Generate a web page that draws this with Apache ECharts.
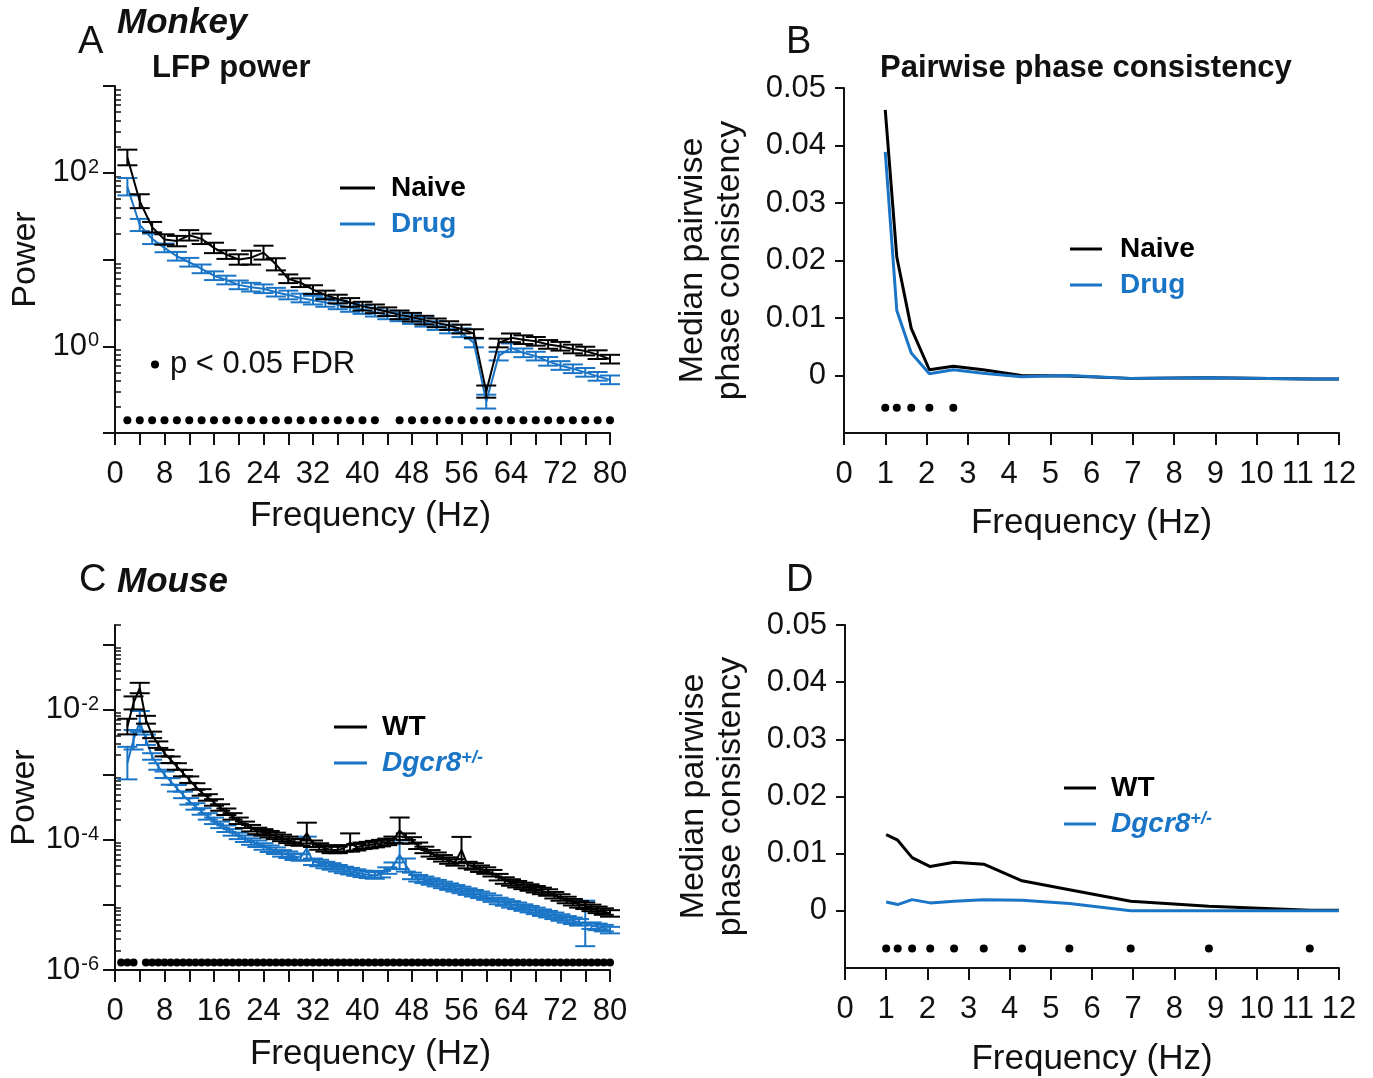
<!DOCTYPE html>
<html>
<head>
<meta charset="utf-8">
<script src="https://cdn.jsdelivr.net/npm/echarts@6/dist/echarts.min.js"></script>
<style>
html,body{margin:0;padding:0;background:#fff;}
#chart{width:1373px;height:1078px;}
</style>
</head>
<body>
<div id="chart"></div>
<script>
// ---------------- DATA ----------------
// Panel A: Monkey LFP power (every 2 Hz)
const freqA = [2,4,6,8,10,12,14,16,18,20,22,24,26,28,30,32,34,36,38,40,42,44,46,48,50,52,54,56,58,60,62,64,66,68,70,72,74,76,78,80];
const naiveA = [150,47,23.6,17,16.3,19,17.3,13.6,11.4,10,10.5,12,8.8,6,5.4,4.5,3.9,3.5,3.2,2.9,2.7,2.5,2.3,2.16,2.0,1.86,1.73,1.58,1.4,0.30,1.09,1.25,1.19,1.14,1.05,1.0,0.93,0.88,0.80,0.71];
const drugA = [69,25,17.3,13.6,10.9,9.3,7.8,6.5,5.8,5.1,4.8,4.6,4.2,3.9,3.6,3.4,3.2,3.0,2.8,2.65,2.47,2.3,2.18,2.03,1.89,1.73,1.58,1.43,1.09,0.23,0.77,0.96,0.84,0.77,0.67,0.60,0.55,0.50,0.45,0.41];
// error (log10 decades, +/-)
const naiveErrA = [0.09,0.08,0.06,0.06,0.06,0.06,0.06,0.06,0.05,0.06,0.08,0.08,0.07,0.05,0.05,0.05,0.05,0.05,0.05,0.05,0.05,0.05,0.05,0.05,0.05,0.05,0.05,0.05,0.05,0.07,0.05,0.05,0.05,0.05,0.05,0.05,0.05,0.05,0.05,0.05];
const drugErrA = [0.10,0.07,0.06,0.05,0.05,0.05,0.05,0.05,0.05,0.05,0.05,0.05,0.05,0.05,0.05,0.05,0.05,0.05,0.05,0.05,0.05,0.05,0.05,0.05,0.05,0.05,0.05,0.05,0.05,0.08,0.05,0.05,0.05,0.05,0.05,0.05,0.05,0.05,0.05,0.05];
const sigA = [2,4,6,8,10,12,14,16,18,20,22,24,26,28,30,32,34,36,38,40,42,46,48,50,52,54,56,58,60,62,64,66,68,70,72,74,76,78,80];

// Panel B / D: pairwise phase consistency
const freqPPC = [1.00,1.28,1.63,2.07,2.65,3.37,4.30,5.45,6.94,8.84,11.29,12];
const naivePPC = [0.0462,0.0206,0.0082,0.0010,0.0016,0.0010,0.0000,-0.0001,-0.0005,-0.0004,-0.0006,-0.0006];
const drugPPC = [0.0389,0.0113,0.0039,0.0003,0.0010,0.0004,-0.0002,0.0000,-0.0005,-0.0004,-0.0006,-0.0006];
const sigB = [1.00,1.28,1.63,2.07,2.65];
const wtPPC = [0.01334,0.01236,0.0093,0.00774,0.0085,0.00815,0.00526,0.0037,0.00168,0.00081,0.00012,0.0001];
const dgcrPPC = [0.00156,0.0011,0.00196,0.00139,0.00168,0.00196,0.00185,0.00127,0.0000,0.0000,0.0000,0.0000];
const sigD = [1.00,1.28,1.63,2.07,2.65,3.37,4.30,5.45,6.94,8.84,11.29];

// Panel C: Mouse LFP power (every 1 Hz)
const freqC = [2,3,4,5,6,7,8,9,10,11,12,13,14,15,16,17,18,19,20,21,22,23,24,25,26,27,28,29,30,31,32,33,34,35,36,37,38,39,40,41,42,43,44,45,46,47,48,49,50,51,52,53,54,55,56,57,58,59,60,61,62,63,64,65,66,67,68,69,70,71,72,73,74,75,76,77,78,79,80];
const wtC = [5.5e-3,1.27e-2,2.15e-2,7.0e-3,4.1e-3,2.9e-3,2.15e-3,1.70e-3,1.34e-3,1.06e-3,8.4e-4,6.6e-4,5.35e-4,4.48e-4,3.75e-4,3.14e-4,2.70e-4,2.29e-4,1.96e-4,1.70e-4,1.51e-4,1.37e-4,1.30e-4,1.22e-4,1.15e-4,1.07e-4,1.0e-4,9.3e-5,9.1e-5,1.27e-4,8.7e-5,7.9e-5,7.4e-5,7.0e-5,7.0e-5,7.4e-5,9.1e-5,7.7e-5,8.1e-5,8.3e-5,8.6e-5,8.9e-5,9.3e-5,1.0e-4,1.39e-4,1.12e-4,9.8e-5,8.1e-5,7.0e-5,6.2e-5,5.7e-5,5.2e-5,4.8e-5,4.5e-5,7.0e-5,4.1e-5,3.9e-5,3.6e-5,3.37e-5,3.07e-5,2.67e-5,2.37e-5,2.21e-5,2.08e-5,1.96e-5,1.85e-5,1.74e-5,1.64e-5,1.55e-5,1.41e-5,1.30e-5,1.19e-5,1.10e-5,1.02e-5,9.7e-6,9.0e-6,8.4e-6,7.9e-6,7.4e-6];
const dgcrC = [1.51e-3,3.45e-3,6.6e-3,3.45e-3,1.91e-3,1.34e-3,1.0e-3,7.9e-4,6.2e-4,4.9e-4,3.9e-4,3.26e-4,2.73e-4,2.29e-4,1.96e-4,1.70e-4,1.48e-4,1.30e-4,1.15e-4,1.04e-4,9.4e-5,8.7e-5,7.9e-5,7.3e-5,6.8e-5,6.2e-5,5.9e-5,5.5e-5,5.35e-5,7.4e-5,4.6e-5,4.4e-5,4.1e-5,3.9e-5,3.66e-5,3.45e-5,3.3e-5,3.14e-5,3.0e-5,2.9e-5,2.83e-5,2.97e-5,3.37e-5,4.0e-5,5.9e-5,4.1e-5,2.79e-5,2.57e-5,2.43e-5,2.29e-5,2.16e-5,2.03e-5,1.91e-5,1.80e-5,1.70e-5,1.60e-5,1.51e-5,1.43e-5,1.34e-5,1.25e-5,1.15e-5,1.09e-5,1.02e-5,9.7e-6,9.1e-6,8.6e-6,8.1e-6,7.6e-6,7.2e-6,6.8e-6,6.4e-6,6.0e-6,5.7e-6,5.4e-6,5.2e-6,4.8e-6,4.6e-6,4.4e-6,4.1e-6];
const wtErrC = [0.12,0.10,0.08,0.06,0.05,0.05,0.05,0.05,0.05,0.05,0.05,0.05,0.05,0.05,0.05,0.05,0.05,0.05,0.05,0.05,0.05,0.05,0.05,0.05,0.05,0.05,0.05,0.05,0.05,0.16,0.05,0.05,0.05,0.05,0.05,0.05,0.14,0.05,0.05,0.05,0.05,0.05,0.05,0.05,0.20,0.05,0.05,0.05,0.05,0.05,0.05,0.05,0.05,0.05,0.20,0.05,0.05,0.05,0.05,0.05,0.05,0.05,0.05,0.05,0.05,0.05,0.05,0.05,0.05,0.05,0.05,0.05,0.05,0.05,0.05,0.05,0.05,0.05,0.05];
const dgcrErrC = [0.25,0.15,0.16,0.08,0.05,0.05,0.05,0.05,0.05,0.05,0.05,0.05,0.05,0.05,0.05,0.05,0.05,0.05,0.05,0.05,0.05,0.05,0.05,0.05,0.05,0.05,0.05,0.05,0.05,0.18,0.05,0.05,0.05,0.05,0.05,0.05,0.05,0.05,0.05,0.05,0.05,0.05,0.05,0.05,0.22,0.10,0.05,0.05,0.05,0.05,0.05,0.05,0.05,0.05,0.05,0.05,0.05,0.05,0.05,0.05,0.05,0.05,0.05,0.05,0.05,0.05,0.05,0.05,0.05,0.05,0.05,0.05,0.05,0.05,0.35,0.05,0.05,0.05,0.05];
const sigC = [1,2,3,5,6,7,8,9,10,11,12,13,14,15,16,17,18,19,20,21,22,23,24,25,26,27,28,29,30,31,32,33,34,35,36,37,38,39,40,41,42,43,44,45,46,47,48,49,50,51,52,53,54,55,56,57,58,59,60,61,62,63,64,65,66,67,68,69,70,71,72,73,74,75,76,77,78,79,80];

// Tick labels
const freqTicks80 = [0,4,8,12,16,20,24,28,32,36,40,44,48,52,56,60,64,68,72,76,80];
const freqLabels80 = [0,8,16,24,32,40,48,56,64,72,80];
const freqTicks12 = [0,1,2,3,4,5,6,7,8,9,10,11,12];
const ppcTicks = [0,0.01,0.02,0.03,0.04,0.05];
const powerMajorA = [0.1,1,10,100,1000];
const powerLabelsA = [1,100];
const powerMajorC = [1e-6,1e-5,1e-4,1e-3,1e-2,1e-1];
const powerLabelsC = [1e-6,1e-4,1e-2];

// ---------------- STYLE ----------------
const BLUE = '#1b75c6';
const INK = '#111';
const FONT = '"Liberation Sans", Arial, Helvetica, sans-serif';
const TICKFS = 31;

function zip(xs, ys) { return xs.map((x, i) => [x, ys[i]]); }
function errData(xs, ys, es) {
  return xs.map((x, i) => [x, ys[i] / Math.pow(10, es[i]), ys[i] * Math.pow(10, es[i])]);
}
function minorLog(k0, k1) {
  const out = [];
  for (let k = k0; k <= k1; k++) for (let m = 2; m <= 9; m++) out.push(+(m * Math.pow(10, k)).toPrecision(3));
  return out;
}
function errRender(halfW, color, lw) {
  return function (params, api) {
    const x = api.value(0), lo = api.value(1), hi = api.value(2);
    const p1 = api.coord([x, lo]), p2 = api.coord([x, hi]);
    const style = { stroke: color, lineWidth: lw };
    return { type: 'group', children: [
      { type: 'line', shape: { x1: p1[0], y1: p1[1], x2: p2[0], y2: p2[1] }, style: style },
      { type: 'line', shape: { x1: p1[0] - halfW, y1: p1[1], x2: p1[0] + halfW, y2: p1[1] }, style: style },
      { type: 'line', shape: { x1: p2[0] - halfW, y1: p2[1], x2: p2[0] + halfW, y2: p2[1] }, style: style }
    ]};
  };
}
function powLabel(v) {
  const e = Math.round(Math.log10(v));
  return '{b|10}{s|' + e + '}';
}
const powRich = {
  b: { fontSize: 31, color: INK, fontFamily: FONT },
  s: { fontSize: 20, color: INK, fontFamily: FONT, verticalAlign: 'top', padding: [0, 0, 6, 1] }
};

function freqAxis(grid, max, ticks, labels, nameGap, namePad) {
  return {
    type: 'value', gridIndex: grid, min: 0, max: max,
    name: 'Frequency (Hz)', nameLocation: 'middle', nameGap: nameGap,
    nameTextStyle: { fontSize: 35, color: INK, fontFamily: FONT, padding: [0, 0, 0, namePad] },
    axisLine: { onZero: false, lineStyle: { color: INK, width: 2 } },
    axisTick: { customValues: ticks, length: 12, lineStyle: { color: INK, width: 2 } },
    axisLabel: { customValues: labels, margin: 26, fontSize: TICKFS, color: INK, fontFamily: FONT },
    splitLine: { show: false }
  };
}
function logAxis(grid, min, max, majors, labels, showName) {
  return {
    type: 'log', logBase: 10, gridIndex: grid, min: min, max: max,
    name: showName ? 'Power' : '', nameLocation: 'middle', nameGap: 72,
    nameTextStyle: { fontSize: 34, color: INK, fontFamily: FONT },
    axisLine: { onZero: false, lineStyle: { color: INK, width: 2 } },
    axisTick: { customValues: majors, length: 12, lineStyle: { color: INK, width: 2 } },
    axisLabel: { customValues: labels, margin: 16, formatter: powLabel, rich: powRich },
    splitLine: { show: false }
  };
}
function logMinorAxis(grid, min, max, minors) {
  return {
    type: 'log', logBase: 10, gridIndex: grid, min: min, max: max,
    axisLine: { show: false },
    axisTick: { customValues: minors, length: 6, lineStyle: { color: INK, width: 1.5 } },
    axisLabel: { show: false },
    splitLine: { show: false }
  };
}
function ppcAxis(grid) {
  return {
    type: 'value', gridIndex: grid, min: -0.01, max: 0.05,
    name: 'Median pairwise\nphase consistency', nameLocation: 'middle', nameGap: 96,
    nameTextStyle: { fontSize: 34, lineHeight: 37, color: INK, fontFamily: FONT },
    axisLine: { onZero: false, lineStyle: { color: INK, width: 2 } },
    axisTick: { customValues: ppcTicks, length: 9, lineStyle: { color: INK, width: 2 } },
    axisLabel: { customValues: ppcTicks, margin: 18, fontSize: TICKFS, color: INK, fontFamily: FONT,
      formatter: v => (Math.abs(v) < 1e-12 ? '0' : v.toFixed(2)) },
    splitLine: { show: false }
  };
}

function titleItem(text, left, top, size, weight, style) {
  return { text: text, left: left, top: top, padding: 0,
    textStyle: { fontSize: size, fontWeight: weight, fontStyle: style || 'normal', color: INK, fontFamily: FONT } };
}
function legendItem(names, colors, left, top, iconW, pad, rich) {
  return {
    orient: 'vertical', left: left, top: top, padding: 0, itemGap: 8,
    itemWidth: iconW, itemHeight: 3, icon: 'rect', selectedMode: false,
    data: names.map((n, i) => ({ name: n, textStyle: { color: colors[i] } })),
    formatter: n => (n === 'Dgcr8+/-' ? '{i|Dgcr8}{s|+/-}' : n),
    textStyle: { fontSize: 28, lineHeight: 28, fontWeight: 'bold', fontFamily: FONT, padding: [0, 0, 0, pad],
      rich: rich || {} }
  };
}
const dgRich = {
  i: { fontSize: 28, fontWeight: 'bold', fontStyle: 'italic', color: BLUE, fontFamily: FONT },
  s: { fontSize: 18, fontWeight: 'bold', fontStyle: 'italic', color: BLUE, fontFamily: FONT, verticalAlign: 'top' }
};

function lineSeries(name, xi, yi, data, color, width, z) {
  return { type: 'line', name: name, xAxisIndex: xi, yAxisIndex: yi, data: data, symbol: 'none',
    lineStyle: { color: color, width: width }, itemStyle: { color: color }, z: z, silent: true };
}
function errSeries(name, xi, yi, data, color, halfW, z) {
  return { type: 'custom', name: name, xAxisIndex: xi, yAxisIndex: yi, data: data,
    renderItem: errRender(halfW, color, 2), itemStyle: { color: color }, z: z, silent: true };
}
function sigSeries(xi, yi, xs, yv) {
  return { type: 'scatter', name: 'p < 0.05 FDR', xAxisIndex: xi, yAxisIndex: yi,
    data: xs.map(x => [x, yv]), symbol: 'circle', symbolSize: 8,
    itemStyle: { color: '#000', opacity: 1 }, z: 5, silent: true };
}

const chart = echarts.init(document.getElementById('chart'));
chart.setOption({
  animation: false,
  backgroundColor: '#fff',
  textStyle: { fontFamily: FONT },
  title: [
    titleItem('A', 78, 24, 38, 'normal'),
    titleItem('Monkey', 117, 6, 35, 'bold', 'italic'),
    titleItem('LFP power', 152, 53, 31, 'bold'),
    titleItem('B', 786, 24, 38, 'normal'),
    titleItem('Pairwise phase consistency', 880, 53, 31, 'bold'),
    titleItem('C', 79, 562, 38, 'normal'),
    titleItem('Mouse', 117, 565, 35, 'bold', 'italic'),
    titleItem('D', 786, 562, 38, 'normal')
  ],
  legend: [
    legendItem(['Naive', 'Drug'], ['#000', BLUE], 340, 174, 35, 11),
    legendItem(['Naive', 'Drug'], ['#000', BLUE], 1070, 235, 32, 13),
    legendItem(['WT', 'Dgcr8+/-'], ['#000', BLUE], 334, 713, 33, 10, dgRich),
    legendItem(['WT', 'Dgcr8+/-'], ['#000', BLUE], 1064, 774, 32, 10, dgRich),
    { left: 151, top: 349, padding: 0, itemWidth: 8, itemHeight: 8, icon: 'circle', selectedMode: false,
      data: [{ name: 'p < 0.05 FDR', itemStyle: { color: '#000' } }],
      textStyle: { fontSize: 31, color: INK, fontFamily: FONT, padding: [0, 0, 0, 6] } }
  ],
  grid: [
    { left: 115, top: 86, width: 495, height: 347 },
    { left: 844, top: 88, width: 495, height: 345 },
    { left: 115, top: 625, width: 495, height: 345 },
    { left: 845, top: 625, width: 494, height: 346 }
  ],
  xAxis: [
    freqAxis(0, 80, freqTicks80, freqLabels80, 66, 16),
    freqAxis(1, 12, freqTicks12, freqTicks12, 73, 0),
    freqAxis(2, 80, freqTicks80, freqLabels80, 67, 16),
    freqAxis(3, 12, freqTicks12, freqTicks12, 74, 0)
  ],
  yAxis: [
    logAxis(0, 0.1, 1000, powerMajorA, powerLabelsA, true),
    logMinorAxis(0, 0.1, 1000, minorLog(-1, 2)),
    ppcAxis(1),
    logAxis(2, 1e-6, 0.2, powerMajorC, powerLabelsC, true),
    logMinorAxis(2, 1e-6, 0.2, minorLog(-6, -2).concat([0.2])),
    ppcAxis(3)
  ],
  series: [
    // A
    lineSeries('Drug', 0, 0, zip(freqA, drugA), BLUE, 2, 2),
    errSeries('Drug', 0, 0, errData(freqA, drugA, drugErrA), BLUE, 10, 2),
    lineSeries('Naive', 0, 0, zip(freqA, naiveA), '#000', 2, 3),
    errSeries('Naive', 0, 0, errData(freqA, naiveA, naiveErrA), '#000', 10, 3),
    sigSeries(0, 0, sigA, 0.14),
    // B
    lineSeries('Naive', 1, 2, zip(freqPPC, naivePPC), '#000', 3, 2),
    lineSeries('Drug', 1, 2, zip(freqPPC, drugPPC), BLUE, 3, 3),
    sigSeries(1, 2, sigB, -0.0056),
    // C
    lineSeries('Dgcr8+/-', 2, 3, zip(freqC, dgcrC), BLUE, 2, 2),
    errSeries('Dgcr8+/-', 2, 3, errData(freqC, dgcrC, dgcrErrC), BLUE, 10, 2),
    lineSeries('WT', 2, 3, zip(freqC, wtC), '#000', 2, 3),
    errSeries('WT', 2, 3, errData(freqC, wtC, wtErrC), '#000', 10, 3),
    sigSeries(2, 3, sigC, 1.3e-6),
    // D
    lineSeries('WT', 3, 5, zip(freqPPC, wtPPC), '#000', 3, 2),
    lineSeries('Dgcr8+/-', 3, 5, zip(freqPPC, dgcrPPC), BLUE, 3, 3),
    sigSeries(3, 5, sigD, -0.0066)
  ]
});
</script>
</body>
</html>
